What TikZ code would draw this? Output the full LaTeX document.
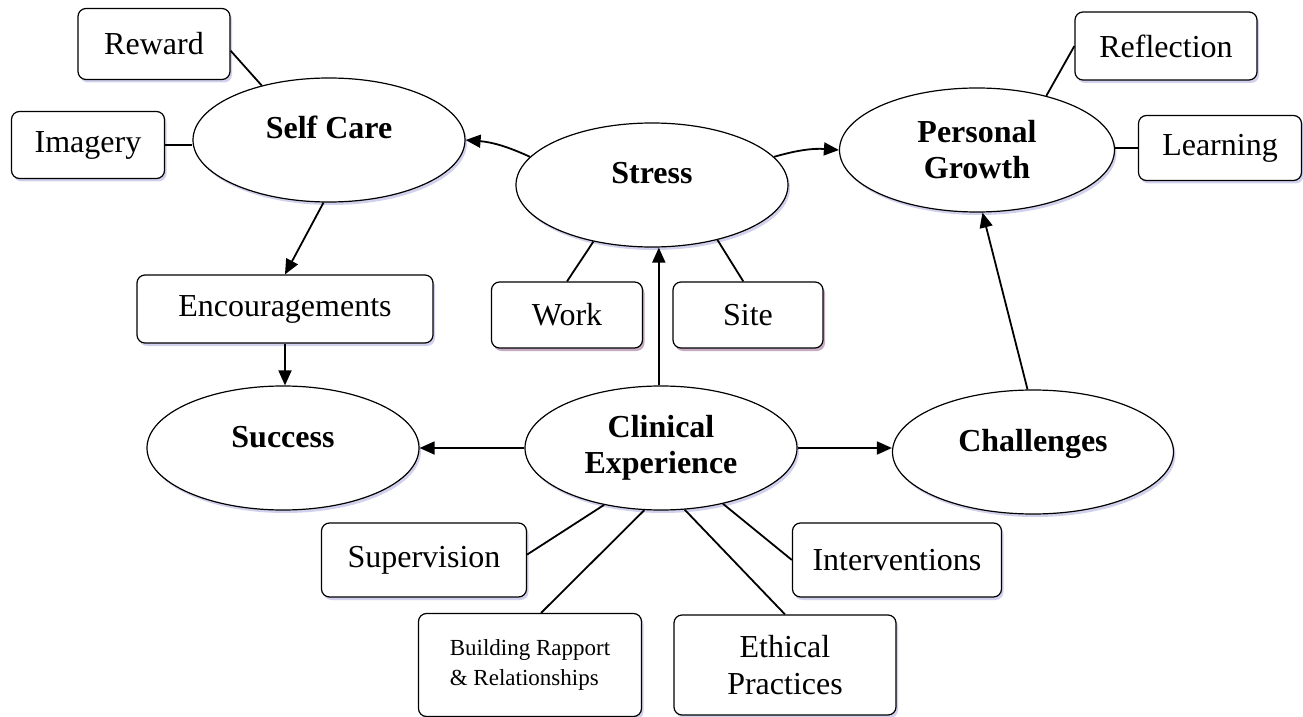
\documentclass[tikz,border=0pt]{standalone}
\usepackage{fontspec}
\setmainfont{Liberation Serif}
\usetikzlibrary{shapes.geometric,arrows.meta,shadows}
\begin{document}
\begin{tikzpicture}
		[	x=0.5pt, y=-0.5pt,
		oval/.style={ellipse, draw=black, fill=white, line width=0.6pt, minimum width=136pt, minimum height=62pt, align=center, font=\fontsize{16}{18}\selectfont\bfseries, drop shadow={opacity=0.18, shadow xshift=1pt, shadow yshift=-1.5pt, fill=blue!60!black}},
		oneline/.style={text height=11pt, text depth=12pt},
		box/.style={rectangle, rounded corners=4pt, draw=black, fill=white, line width=0.6pt, minimum width=76pt, minimum height=33.5pt, align=center, font=\fontsize{16}{18.5}\selectfont, drop shadow={opacity=0.18, shadow xshift=1pt, shadow yshift=-1.5pt, fill=blue!60!black}},
		redshadow/.style={drop shadow={opacity=0.18, shadow xshift=1pt, shadow yshift=-1.5pt, fill=red!60!black}},
		link/.style={line width=0.9pt},
		arrow/.style={line width=0.9pt, -{Triangle[length=7.5pt,width=6.5pt]}}
		]
		\useasboundingbox (0,0) rectangle (1303,717);

		% main ideas
		\node[oval,oneline] (selfcare) at (329,140) {Self Care};
		\node[oval,oneline] (stress) at (652,185) {Stress};
		\node[oval,minimum width=137.5pt] (growth) at (977,150) {Personal\\Growth};
		\node[oval,oneline] (success) at (283,448) {Success};
		\node[oval] (clinical) at (661,448) {Clinical\\Experience};
		\node[oval,oneline,minimum width=140.5pt] (challenges) at (1033,452) {Challenges};

		% details
		\node[box,minimum height=35.5pt] (reward) at (154,44) {Reward};
		\node[box,minimum width=76.5pt] (imagery) at (88,145) {Imagery};
		\node[box,minimum width=91pt,minimum height=34pt] (reflection) at (1166,46) {Reflection};
		\node[box,minimum width=81.5pt,minimum height=32.5pt] (learning) at (1220,148) {Learning};
		\node[box,redshadow,minimum width=75.5pt,minimum height=33pt] (work) at (567,315) {Work};
		\node[box,redshadow,minimum width=75pt,minimum height=33pt] (site) at (748,315) {Site};
		\node[box,minimum width=148pt,minimum height=34pt] (encouragements) at (285,309) {Encouragements};
		\node[box,minimum width=102.5pt,minimum height=37pt] (supervision) at (424,560) {Supervision};
		\node[box,minimum width=104.5pt,minimum height=37pt] (interventions) at (897,560) {Interventions};
		\node[box,minimum width=111.5pt,minimum height=51.5pt,align=left,font=\fontsize{11.5}{15}\selectfont] (rapport) at (530,665) {Building Rapport\\\& Relationships};
		\node[box,minimum width=111pt,minimum height=50pt] (ethical) at (785,665) {Ethical\\Practices};

		\draw[link] (reward.-5) -- (selfcare.141);
		\draw[link] (imagery.east) -- (imagery.east -| selfcare.west);
		\draw[link] (reflection.west) -- (growth.38);
		\draw[link] (learning.west) -- (learning.west -| growth.east);
		\draw[link] (work.north) -- (stress.224);
		\draw[link] (site.98) -- (stress.320);
		\draw[link] (supervision.3) -- (clinical.225);
		\draw[link] (rapport.78) -- (clinical.255);
		\draw[link] (ethical.north) -- (clinical.291);
		\draw[link] (interventions.west) -- (clinical.318);

		\draw[arrow] (stress.167) to[bend right=10] (selfcare.east);
		\draw[arrow] (stress.13) to[bend left=10] (growth.west);
		\draw[arrow] (clinical.92) -- (clinical.92 |- stress.south);
		\draw[arrow] (selfcare.265) -- (encouragements.north);
		\draw[arrow] (encouragements.south) -- (encouragements.south |- success.north);
		\draw[arrow] (clinical.west) -- (success.east);
		\draw[arrow] (clinical.east) -- (clinical.east -| challenges.west);
		\draw[arrow] (challenges.95) -- (growth.275);
	\end{tikzpicture}
\end{document}
